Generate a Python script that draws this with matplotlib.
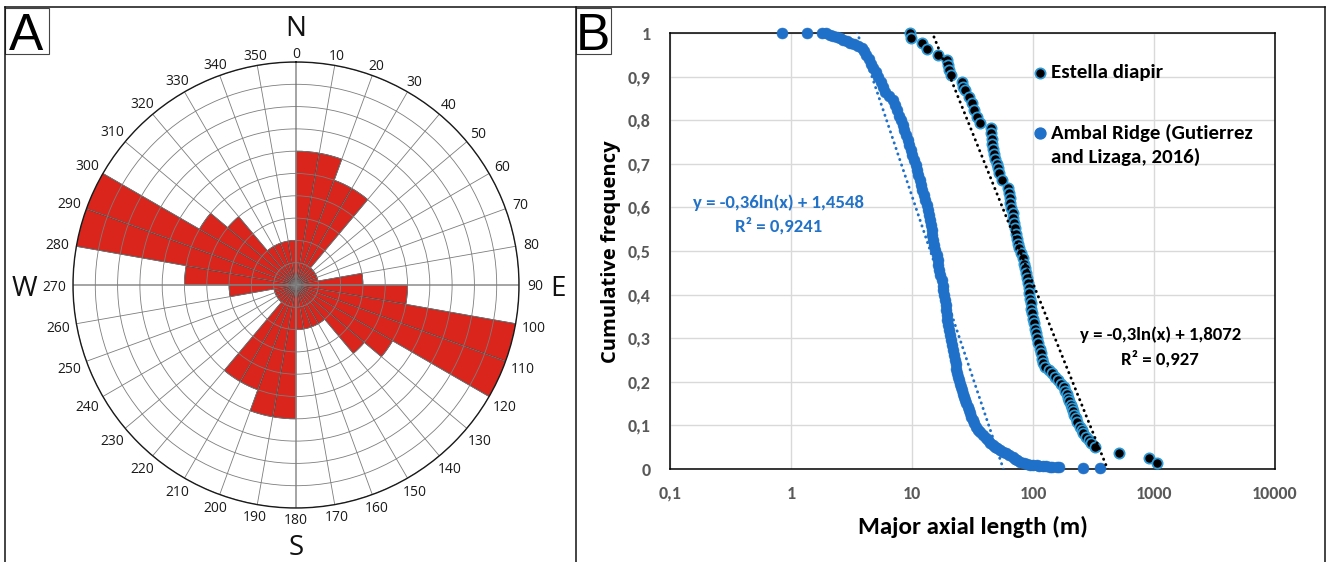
import matplotlib
matplotlib.use("Agg")
import matplotlib.pyplot as plt
import numpy as np
from matplotlib import font_manager as fm
from matplotlib.patches import Rectangle
from matplotlib.lines import Line2D


def pick(names):
    for n in names:
        try:
            fm.findfont(fm.FontProperties(family=n), fallback_to_default=False)
            return n
        except ValueError:
            pass
    return "DejaVu Sans"


calib = pick(["Carlito", "Lato", "Open Sans"])
myriad = pick(["Open Sans", "Noto Sans", "DejaVu Sans"])
arial = pick(["Liberation Sans", "Arial", "DejaVu Sans"])

# --- A: rose diagram, counts per 10 degree class (axial data -> symmetric)
rose_start = list(range(0, 360, 10))
rose_count = [6, 6, 5, 5, 1, 1, 1, 1, 3, 5, 10, 10, 5, 4, 2, 2, 2, 2,
              6, 6, 5, 5, 1, 1, 1, 1, 3, 5, 10, 10, 5, 4, 2, 2, 2, 2]

# --- B: cumulative frequency vs major axial length (m)
ambal_len = [0.84, 1.36, 1.82, 1.94, 2.1, 2.22, 2.4, 2.54, 2.7, 2.91,
             3.1, 3.33, 3.6, 3.83, 4.0, 4.19, 4.4, 4.58, 4.8, 5.02,
             5.25, 5.5, 5.75, 6.03, 6.45, 6.9, 7.2, 7.57, 7.85, 8.12,
             8.4, 8.65, 8.95, 9.3, 9.5, 9.73, 10.05, 10.4, 10.7, 10.96,
             11.25, 11.58, 11.9, 12.2, 12.55, 12.9, 13.25, 13.6, 13.8, 14.0,
             14.25, 14.5, 14.7, 14.9, 15.25, 15.6, 15.95, 16.3, 16.55, 16.8,
             17.2, 17.6, 17.9, 18.2, 18.45, 18.7, 19.0, 19.2, 19.4, 19.6,
             20.0, 20.4, 20.7, 21.1, 21.45, 21.8, 22.1, 22.5, 22.9, 23.3,
             23.7, 24.1, 24.6, 25.0, 25.3, 25.7, 26.3, 26.9, 27.5, 28.2,
             28.8, 29.5, 30.2, 30.9, 31.8, 32.7, 33.8, 35.0, 36.8, 38.7,
             40.5, 42.3, 44.4, 46.5, 48.5, 50.5, 53.2, 57, 60, 63.8,
             68, 71, 73.1, 78, 84, 88.7, 95, 100, 107, 113,
             120, 128, 137, 144, 158, 165, 261, 355]
ambal_freq = [1.0, 1.0, 1.0, 0.999, 0.995, 0.993, 0.99, 0.988, 0.985, 0.982,
              0.978, 0.975, 0.97, 0.965, 0.958, 0.95, 0.94, 0.93, 0.92, 0.911,
              0.90, 0.888, 0.877, 0.865, 0.855, 0.846, 0.835, 0.823, 0.81, 0.80,
              0.79, 0.778, 0.766, 0.755, 0.743, 0.732, 0.72, 0.709, 0.697, 0.686,
              0.675, 0.663, 0.651, 0.64, 0.628, 0.617, 0.605, 0.594, 0.582, 0.571,
              0.56, 0.548, 0.537, 0.525, 0.513, 0.502, 0.49, 0.479, 0.467, 0.456,
              0.444, 0.433, 0.42, 0.41, 0.40, 0.388, 0.376, 0.365, 0.353, 0.342,
              0.33, 0.319, 0.308, 0.296, 0.285, 0.273, 0.262, 0.25, 0.24, 0.23,
              0.221, 0.212, 0.203, 0.195, 0.188, 0.181, 0.173, 0.166, 0.158, 0.151,
              0.143, 0.135, 0.128, 0.12, 0.112, 0.105, 0.097, 0.09, 0.084, 0.078,
              0.072, 0.066, 0.059, 0.055, 0.051, 0.048, 0.044, 0.04, 0.036, 0.032,
              0.028, 0.024, 0.021, 0.017, 0.013, 0.011, 0.01, 0.009, 0.009, 0.008,
              0.007, 0.006, 0.005, 0.005, 0.004, 0.004, 0.002, 0.002]

est_len = [9.7, 9.8, 12.1, 13.4, 16.3, 19.6, 20.0, 20.3, 20.9, 25.7,
           26.5, 27.2, 29.4, 31.3, 32.5, 34.4, 36.3, 45, 45, 45.5,
           46, 47, 47.6, 48.3, 50, 51, 52, 55.4, 62, 63.5,
           64, 64.5, 65.5, 68, 68.5, 69.5, 71, 73, 74, 75,
           77, 79.6, 82, 85, 86, 87, 89, 91, 92, 93,
           95, 96, 97, 99, 100, 101, 104, 106, 108, 111,
           114, 117, 119, 122, 126, 135, 143.5, 152, 160, 170,
           180, 185, 190, 195, 200, 205, 210, 215, 220, 225,
           232, 245, 252, 261, 272, 288, 300, 327, 513, 904, 1065]
est_freq = [1.0, 0.988, 0.976, 0.963, 0.95, 0.938, 0.927, 0.915, 0.904, 0.888,
            0.877, 0.869, 0.854, 0.839, 0.823, 0.808, 0.793, 0.782, 0.77, 0.758,
            0.746, 0.735, 0.723, 0.712, 0.70, 0.69, 0.679, 0.663, 0.644, 0.633,
            0.621, 0.61, 0.598, 0.587, 0.575, 0.564, 0.553, 0.54, 0.528, 0.517,
            0.506, 0.495, 0.483, 0.471, 0.46, 0.449, 0.437, 0.426, 0.414, 0.403,
            0.391, 0.38, 0.368, 0.357, 0.345, 0.334, 0.322, 0.311, 0.30, 0.288,
            0.276, 0.265, 0.253, 0.243, 0.235, 0.228, 0.22, 0.212, 0.204, 0.196,
            0.188, 0.18, 0.172, 0.163, 0.155, 0.147, 0.14, 0.132, 0.124, 0.116,
            0.107, 0.097, 0.09, 0.082, 0.074, 0.066, 0.06, 0.051, 0.037, 0.025, 0.013]

# log trendlines  y = a ln(x) + b
ambal_fit = (-0.36, 1.4548)
est_fit = (-0.3, 1.8072)

x_ticks = [0.1, 1, 10, 100, 1000, 10000]
x_ticklabels = ["0,1", "1", "10", "100", "1000", "10000"]
y_ticks = [0, 0.1, 0.2, 0.3, 0.4, 0.5, 0.6, 0.7, 0.8, 0.9, 1]
y_ticklabels = ["0", "0,1", "0,2", "0,3", "0,4", "0,5", "0,6", "0,7", "0,8", "0,9", "1"]

BLUE = "#1f70c8"
RED = "#da251d"

W, H = 1328, 562
fig = plt.figure(figsize=(W / 100, H / 100), dpi=100)


def fx(px):
    return px / W


def fy(py):
    return 1 - py / H


# ---------------- panel A ----------------
cx, cy, R = 296, 285, 223
ax1 = fig.add_axes([fx(cx - R), fy(cy + R), 2 * R / W, 2 * R / H], projection="polar")
ax1.set_theta_zero_location("N")
ax1.set_theta_direction(-1)
ax1.bar(np.deg2rad(np.array(rose_start) + 5), rose_count, width=np.deg2rad(10),
        color=RED, edgecolor="#3a1612", linewidth=0.6)
ax1.set_ylim(0, 10)
ax1.set_thetagrids(range(0, 360, 10), labels=[""] * 36)
ax1.set_rgrids(range(1, 11), labels=[""] * 10)
ax1.grid(color="#7d7d7d", linewidth=0.6)
ax1.tick_params(length=0)
gl = ax1.xaxis.get_gridlines()
for i in (0, 9, 18, 27):
    gl[i].set_linewidth(1.1)
    gl[i].set_color("#8c8c8c")
ax1.spines["polar"].set_color("#1a1a1a")
ax1.spines["polar"].set_linewidth(1.0)

unit = R / 10
for ang in rose_start:
    t = np.deg2rad(ang)
    s = str(ang)
    r_px = 233 + 3 * abs(np.sin(t)) * len(s)
    ax1.text(t, r_px / unit, s, ha="center", va="center_baseline",
             fontsize=10, family=myriad, color="#1a1a1a", clip_on=False)

for t, r, s in [(0, 259.5, "N"), (90, 262, "E"), (180, 259.5, "S"), (270, 272, "W")]:
    ax1.text(np.deg2rad(t), r / unit, s, ha="center", va="center_baseline",
             fontsize=20, family=myriad, color="#111111", clip_on=False)

# ---------------- panel B ----------------
L, Rr, T, B = 670, 1275, 33, 469
ax2 = fig.add_axes([fx(L), fy(B), (Rr - L) / W, (B - T) / H])
ax2.set_xscale("log")
ax2.set_xlim(0.1, 10000)
ax2.set_ylim(0, 1)
ax2.set_xticks(x_ticks)
ax2.set_xticklabels(x_ticklabels)
ax2.xaxis.set_minor_locator(matplotlib.ticker.NullLocator())
ax2.set_yticks(y_ticks)
ax2.set_yticklabels(y_ticklabels)
ax2.tick_params(length=0, labelsize=13, labelcolor="#595959")
ax2.tick_params(axis="x", pad=12)
ax2.tick_params(axis="y", pad=14)
for lab in ax2.get_xticklabels() + ax2.get_yticklabels():
    lab.set_family(calib)
    lab.set_fontweight("bold")
ax2.grid(color="#d9d9d9", linewidth=1.0)
ax2.set_axisbelow(True)
for sp in ax2.spines.values():
    sp.set_color("#000000")
    sp.set_linewidth(1.1)

ax2.scatter(ambal_len, ambal_freq, s=62, color=BLUE, edgecolors=BLUE,
            linewidths=0.4, zorder=3, clip_on=False)
ax2.scatter(est_len, est_freq, s=54, facecolor="black", edgecolors="#2e9ad8",
            linewidths=1.3, zorder=4, clip_on=False)

for (a, b), xs, col in [(ambal_fit, ambal_len, BLUE), (est_fit, est_len, "black")]:
    xr = np.array([min(xs), max(xs)])
    ax2.plot(xr, a * np.log(xr) + b, color=col, linewidth=2.1,
             linestyle=(0, (0.1, 1.9)), dash_capstyle="round", zorder=5)

ax2.set_xlabel("Major axial length (m)", family=calib, fontweight="bold",
               fontsize=18, color="#000000")
ax2.xaxis.set_label_coords(0.5008, (B - 527) / (B - T))
ax2.xaxis.label.set_va("center")
ax2.set_ylabel("Cumulative frequency", family=myriad, fontweight="bold",
               fontsize=14.5, color="#000000")
ax2.yaxis.set_label_coords((611 - L) / (Rr - L), (B - 252) / (B - T))
ax2.yaxis.label.set_va("center")


def ap(px, py):
    return (px - L) / (Rr - L), (B - py) / (B - T)


# legend drawn by hand (second label wraps onto two lines)
ax2.scatter(*ap(1040, 72.5), s=54, facecolor="black", edgecolors="#2e9ad8",
            linewidths=1.3, transform=ax2.transAxes, clip_on=False, zorder=6)
ax2.scatter(*ap(1040, 132.5), s=62, color=BLUE, transform=ax2.transAxes,
            clip_on=False, zorder=6)
for py, s in [(72.5, "Estella diapir"), (132.5, "Ambal Ridge (Gutierrez"),
              (157.3, "and Lizaga, 2016)")]:
    ax2.text(*ap(1051, py), s, transform=ax2.transAxes, ha="left", va="center",
             family=calib, fontweight="bold", fontsize=15, color="#000000")

for px, py, s, col in [(778.6, 202.7, "y = -0,36ln(x) + 1,4548", "#2272c8"),
                       (778.7, 226.0, "R² = 0,9241", "#2272c8"),
                       (1160.4, 335.0, "y = -0,3ln(x) + 1,8072", "#000000"),
                       (1159.7, 358.3, "R² = 0,927", "#000000")]:
    ax2.text(*ap(px, py), s, transform=ax2.transAxes, ha="center", va="center",
             family=calib, fontweight="bold", fontsize=13.5, color=col)

# ---------------- frames and panel letters ----------------
frame = dict(color="#111111", linewidth=1.1, transform=fig.transFigure)
fig.add_artist(Line2D([fx(4.5), fx(1325)], [fy(7), fy(7)], **frame))
for xp in (4.5, 575.5, 1325):
    fig.add_artist(Line2D([fx(xp), fx(xp)], [fy(7), fy(563)], **frame))

for x0, x1, lx, s in [(5, 49.3, 26.5, "A"), (575.7, 610.7, 593.3, "B")]:
    fig.add_artist(Rectangle((fx(x0), fy(54.3)), fx(x1) - fx(x0), fy(7.5) - fy(54.3),
                             transform=fig.transFigure, fill=False,
                             edgecolor="#444444", linewidth=0.8))
    fig.text(fx(lx), fy(30.5), s, ha="center", va="center_baseline",
             family=arial, fontsize=37, color="#000000")

fig.savefig("out.png", dpi=100)
